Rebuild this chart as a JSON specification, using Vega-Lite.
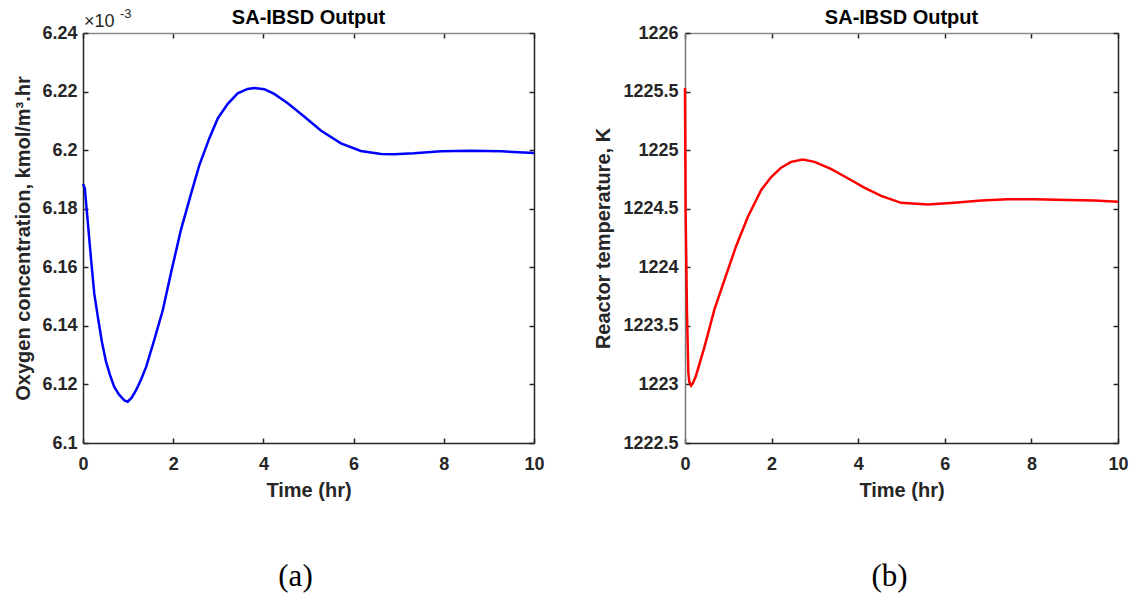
{
  "$schema": "https://vega.github.io/schema/vega-lite/v6.json",
  "background": "white",
  "padding": {"left": 13, "top": 8, "right": 10, "bottom": 0},
  "config": {
    "view": {"stroke": null},
    "font": "Liberation Sans",
    "title": {"font": "Liberation Sans", "fontSize": 20, "fontWeight": "bold", "color": "#000000", "anchor": "middle"},
    "axis": {"grid": false, "domainColor": "#262626", "domainWidth": 1.5, "tickColor": "#262626", "tickWidth": 1.5, "tickSize": -5,
      "labelFont": "Liberation Sans", "labelFontSize": 18, "labelFontWeight": "bold", "labelColor": "#262626",
      "titleFont": "Liberation Sans", "titleFontSize": 20, "titleFontWeight": "bold", "titleColor": "#262626",
      "labelFlush": false, "labelOverlap": false}
  },
  "datasets": {
    "oxy": [
      {"t": 0.00, "o2": 0.0061884}, {"t": 0.04, "o2": 0.0061870}, {"t": 0.10, "o2": 0.0061765}, {"t": 0.18, "o2": 0.0061625},
      {"t": 0.25, "o2": 0.0061510}, {"t": 0.34, "o2": 0.0061420}, {"t": 0.42, "o2": 0.0061345}, {"t": 0.51, "o2": 0.0061278},
      {"t": 0.60, "o2": 0.0061232}, {"t": 0.69, "o2": 0.0061192}, {"t": 0.80, "o2": 0.0061165}, {"t": 0.92, "o2": 0.0061145},
      {"t": 0.99, "o2": 0.0061141}, {"t": 1.08, "o2": 0.0061155}, {"t": 1.18, "o2": 0.0061181}, {"t": 1.29, "o2": 0.0061218},
      {"t": 1.40, "o2": 0.0061260}, {"t": 1.58, "o2": 0.0061352}, {"t": 1.77, "o2": 0.0061454}, {"t": 1.95, "o2": 0.0061580},
      {"t": 2.17, "o2": 0.0061727}, {"t": 2.40, "o2": 0.0061853}, {"t": 2.58, "o2": 0.0061949}, {"t": 2.80, "o2": 0.0062040},
      {"t": 2.99, "o2": 0.0062109}, {"t": 3.21, "o2": 0.0062158}, {"t": 3.43, "o2": 0.0062194}, {"t": 3.65, "o2": 0.0062209},
      {"t": 3.80, "o2": 0.0062212}, {"t": 4.02, "o2": 0.0062208}, {"t": 4.24, "o2": 0.0062192}, {"t": 4.54, "o2": 0.0062160},
      {"t": 4.91, "o2": 0.0062114}, {"t": 5.28, "o2": 0.0062066}, {"t": 5.72, "o2": 0.0062023}, {"t": 6.16, "o2": 0.0061997},
      {"t": 6.61, "o2": 0.0061987}, {"t": 6.90, "o2": 0.0061986}, {"t": 7.34, "o2": 0.0061989}, {"t": 7.94, "o2": 0.0061996},
      {"t": 8.60, "o2": 0.0061998}, {"t": 9.27, "o2": 0.0061996}, {"t": 10.00, "o2": 0.0061990}
    ],
    "temp": [
      {"t": 0.000, "T": 1225.53}, {"t": 0.015, "T": 1224.46}, {"t": 0.046, "T": 1223.61}, {"t": 0.077, "T": 1223.10},
      {"t": 0.10, "T": 1223.02}, {"t": 0.14, "T": 1222.99}, {"t": 0.18, "T": 1223.01}, {"t": 0.25, "T": 1223.07},
      {"t": 0.45, "T": 1223.32}, {"t": 0.68, "T": 1223.64}, {"t": 0.91, "T": 1223.89}, {"t": 1.18, "T": 1224.18},
      {"t": 1.45, "T": 1224.43}, {"t": 1.76, "T": 1224.66}, {"t": 1.99, "T": 1224.77}, {"t": 2.22, "T": 1224.85},
      {"t": 2.45, "T": 1224.90}, {"t": 2.72, "T": 1224.92}, {"t": 2.99, "T": 1224.90}, {"t": 3.37, "T": 1224.84},
      {"t": 3.76, "T": 1224.76}, {"t": 4.14, "T": 1224.68}, {"t": 4.53, "T": 1224.61}, {"t": 4.99, "T": 1224.55},
      {"t": 5.61, "T": 1224.535}, {"t": 6.22, "T": 1224.55}, {"t": 6.84, "T": 1224.57}, {"t": 7.45, "T": 1224.58},
      {"t": 8.07, "T": 1224.58}, {"t": 8.84, "T": 1224.575}, {"t": 9.45, "T": 1224.57}, {"t": 10.00, "T": 1224.56}
    ]
  },
  "columns": 2,
  "bounds": "flush",
  "spacing": {"row": 114, "column": 151},
  "concat": [
    {
      "width": 451, "height": 410,
      "title": {"text": "SA-IBSD Output", "offset": -20},
      "data": {"name": "oxy"},
      "layer": [
        {
          "mark": {"type": "line", "color": "#0000ff", "strokeWidth": 2.5},
          "encoding": {
            "x": {"field": "t", "type": "quantitative", "scale": {"domain": [0, 10], "nice": false, "zero": false},
              "axis": {"orient": "bottom", "values": [0, 2, 4, 6, 8, 10], "format": "~f", "title": "Time (hr)", "labelPadding": 17, "titlePadding": 7}},
            "y": {"field": "o2", "type": "quantitative", "scale": {"domain": [0.0061, 0.00624], "nice": false, "zero": false},
              "axis": {"orient": "left", "values": [0.0061, 0.00612, 0.00614, 0.00616, 0.00618, 0.0062, 0.00622, 0.00624],
                "labelExpr": "format(datum.value*1000, '.2~f')", "title": "Oxygen concentration, kmol/m³.hr", "labelPadding": 11, "titlePadding": 8}}
          }
        },
        {
          "mark": {"type": "line", "opacity": 0},
          "encoding": {
            "x": {"field": "t", "type": "quantitative", "axis": {"orient": "top", "values": [0, 2, 4, 6, 8, 10], "labels": false, "title": null, "domainColor": "#8c8c8c"}},
            "y": {"field": "o2", "type": "quantitative", "axis": {"orient": "right", "values": [0.0061, 0.00612, 0.00614, 0.00616, 0.00618, 0.0062, 0.00622, 0.00624], "labels": false, "title": null}}
          }
        },
        {
          "data": {"values": [{"lbl": "×10"}]},
          "mark": {"type": "text", "align": "left", "baseline": "alphabetic", "dx": 1, "dy": -6, "fontSize": 18, "font": "Liberation Sans", "color": "#262626"},
          "encoding": {
            "x": {"datum": 0, "type": "quantitative", "axis": null},
            "y": {"datum": 0.00624, "type": "quantitative", "axis": null},
            "text": {"field": "lbl"}
          }
        },
        {
          "data": {"values": [{"lbl": "-3"}]},
          "mark": {"type": "text", "align": "left", "baseline": "alphabetic", "dx": 37, "dy": -15, "fontSize": 13, "font": "Liberation Sans", "color": "#262626"},
          "encoding": {
            "x": {"datum": 0, "type": "quantitative", "axis": null},
            "y": {"datum": 0.00624, "type": "quantitative", "axis": null},
            "text": {"field": "lbl"}
          }
        }
      ],
      "resolve": {"axis": {"x": "independent", "y": "independent"}}
    },
    {
      "width": 433, "height": 410,
      "title": {"text": "SA-IBSD Output", "offset": -4},
      "data": {"name": "temp"},
      "layer": [
        {
          "mark": {"type": "line", "color": "#ff0000", "strokeWidth": 2.5},
          "encoding": {
            "x": {"field": "t", "type": "quantitative", "scale": {"domain": [0, 10], "nice": false, "zero": false},
              "axis": {"orient": "bottom", "values": [0, 2, 4, 6, 8, 10], "format": "~f", "title": "Time (hr)", "labelPadding": 17, "titlePadding": 7}},
            "y": {"field": "T", "type": "quantitative", "scale": {"domain": [1222.5, 1226], "nice": false, "zero": false},
              "axis": {"orient": "left", "values": [1222.5, 1223, 1223.5, 1224, 1224.5, 1225, 1225.5, 1226], "format": "~f",
                "title": "Reactor temperature, K", "labelPadding": 12, "titlePadding": 9, "domainColor": "#7a7a7a"}}
          }
        },
        {
          "mark": {"type": "line", "opacity": 0},
          "encoding": {
            "x": {"field": "t", "type": "quantitative", "axis": {"orient": "top", "values": [0, 2, 4, 6, 8, 10], "labels": false, "title": null, "domainColor": "#8c8c8c"}},
            "y": {"field": "T", "type": "quantitative", "axis": {"orient": "right", "values": [1222.5, 1223, 1223.5, 1224, 1224.5, 1225, 1225.5, 1226], "labels": false, "title": null}}
          }
        }
      ],
      "resolve": {"axis": {"x": "independent", "y": "independent"}}
    },
    {
      "width": 451, "height": 40,
      "data": {"values": [{"cap": "(a)"}]},
      "mark": {"type": "text", "font": "Liberation Serif", "fontSize": 31, "color": "#000000", "baseline": "middle", "dx": -13},
      "encoding": {"text": {"field": "cap"}}
    },
    {
      "width": 433, "height": 40,
      "data": {"values": [{"cap": "(b)"}]},
      "mark": {"type": "text", "font": "Liberation Serif", "fontSize": 31, "color": "#000000", "baseline": "middle", "dx": -12},
      "encoding": {"text": {"field": "cap"}}
    }
  ]
}
